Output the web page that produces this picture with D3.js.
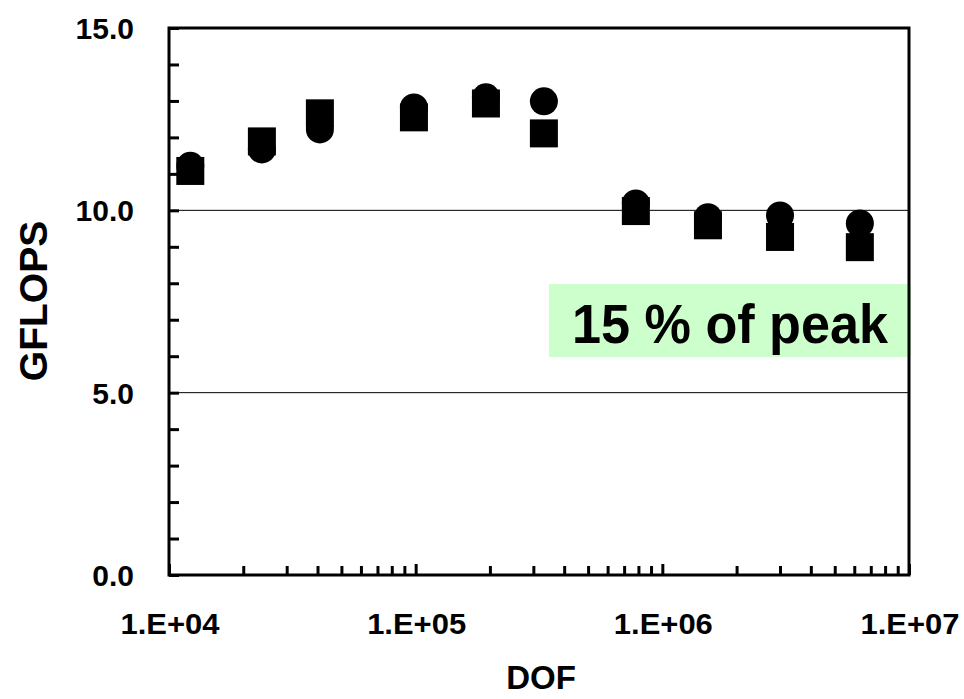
<!DOCTYPE html>
<html>
<head>
<meta charset="utf-8">
<script src="https://cdn.jsdelivr.net/npm/d3@7"></script>
<style>
  body { margin: 0; background: #fff; overflow: hidden; }
  svg { display: block; }
  text { font-family: Arial, "Liberation Sans", sans-serif; font-weight: bold; }
</style>
</head>
<body>
<script>
// DOF values for each run
let dof = [12200, 23800, 40900, 98400, 192700, 331000, 781000, 1531000, 3000000, 6320000];
// circle series and square series (GFLOPS)
let circleVals = [11.22, 11.67, 12.22, 12.82, 13.10, 12.99, 10.19, 9.81, 9.86, 9.64];
let squareVals = [11.08, 11.89, 12.66, 12.55, 12.93, 12.11, 9.98, 9.59, 9.27, 8.99];
let yTickLabels = [0, 5, 10, 15];
let xTickLabels = [1e4, 1e5, 1e6, 1e7];
let note = '15 % of peak';

let width = 964,
    height = 699,
    plotLeft = 169,
    plotRight = 909,
    plotTop = 28,
    plotBottom = 575,
    size = 28;   //marker size

let svg = d3.select('body')
    .append('svg')
    .attr('width', width)
    .attr('height', height);

let x = d3.scaleLog().domain([1e4, 1e7]).range([plotLeft, plotRight]);
let y = d3.scaleLinear().domain([0, 15]).range([plotBottom, plotTop]);

// green note box
svg.append('rect')
    .attr('x', 549)
    .attr('y', 284)
    .attr('width', plotRight + 2 - 549)
    .attr('height', 73)
    .attr('fill', '#ccffcc');
svg.append('text')
    .attr('x', 572)
    .attr('y', 343)
    .attr('font-size', '56px')
    .attr('textLength', 316)
    .attr('lengthAdjust', 'spacingAndGlyphs')
    .attr('fill', '#000')
    .text(note);

// gridlines at 5 and 10
svg.selectAll('line.grid')
    .data([5, 10])
    .enter()
    .append('line')
    .attr('class', 'grid')
    .attr('x1', plotLeft)
    .attr('x2', plotRight)
    .attr('y1', d => y(d))
    .attr('y2', d => y(d))
    .attr('stroke', '#000')
    .attr('stroke-width', 1);

// markers
svg.selectAll('circle.c')
    .data(dof)
    .enter()
    .append('circle')
    .attr('class', 'c')
    .attr('cx', d => x(d))
    .attr('cy', (d, i) => y(circleVals[i]))
    .attr('r', size / 2)
    .attr('fill', '#000');

svg.selectAll('rect.s')
    .data(dof)
    .enter()
    .append('rect')
    .attr('class', 's')
    .attr('x', d => x(d) - size / 2)
    .attr('y', (d, i) => y(squareVals[i]) - size / 2)
    .attr('width', size)
    .attr('height', size)
    .attr('fill', '#000');

// axes: ticks drawn inward
let axisX = d3.axisTop(x)
    .tickValues(d3.range(4, 7).flatMap(e => d3.range(2, 10).map(m => m * Math.pow(10, e))))
    .tickSize(9)
    .tickFormat('');
let gx = svg.append('g').attr('transform', `translate(0,${plotBottom})`).call(axisX);
let axisXMajor = d3.axisTop(x).tickValues(xTickLabels).tickSize(11).tickFormat('');
let gx2 = svg.append('g').attr('transform', `translate(0,${plotBottom})`).call(axisXMajor);

let axisY = d3.axisRight(y).tickValues(d3.range(0, 16)).tickSize(10).tickFormat('');
let gy = svg.append('g').attr('transform', `translate(${plotLeft},0)`).call(axisY);

[gx, gx2, gy].forEach(g => {
    g.select('.domain').remove();
    g.selectAll('line').attr('stroke', '#000').attr('stroke-width', 3);
});

// frame
svg.append('rect')
    .attr('x', plotLeft)
    .attr('y', plotTop)
    .attr('width', plotRight - plotLeft)
    .attr('height', plotBottom - plotTop)
    .attr('fill', 'none')
    .attr('stroke', '#000')
    .attr('stroke-width', 3);

// tick labels
svg.selectAll('text.ylab')
    .data(yTickLabels)
    .enter()
    .append('text')
    .attr('class', 'ylab')
    .attr('x', 134)
    .attr('y', d => y(d) + 11)
    .attr('text-anchor', 'end')
    .attr('font-size', '30px')
    .text(d => d.toFixed(1));

svg.selectAll('text.xlab')
    .data(xTickLabels)
    .enter()
    .append('text')
    .attr('class', 'xlab')
    .attr('x', d => x(d) + 1)
    .attr('y', 634)
    .attr('text-anchor', 'middle')
    .attr('font-size', '29px')
    .attr('textLength', 99)
    .attr('lengthAdjust', 'spacingAndGlyphs')
    .text(d => '1.E+0' + Math.round(Math.log10(d)));

// axis titles
svg.append('text')
    .attr('transform', 'translate(47,301) rotate(-90)')
    .attr('text-anchor', 'middle')
    .attr('font-size', '39px')
    .text('GFLOPS');

svg.append('text')
    .attr('x', 541)
    .attr('y', 689)
    .attr('text-anchor', 'middle')
    .attr('font-size', '33px')
    .text('DOF');
</script>
</body>
</html>
